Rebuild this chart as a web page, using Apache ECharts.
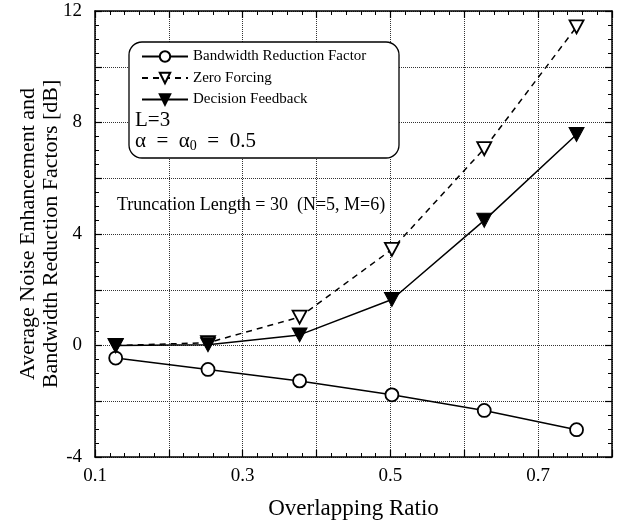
<!DOCTYPE html>
<html>
<head>
<meta charset="utf-8">
<script src="https://cdn.jsdelivr.net/npm/echarts@6/dist/echarts.min.js"></script>
<style>
  html, body { margin: 0; padding: 0; background: #fff; }
  #main { width: 620px; height: 522px; }
</style>
</head>
<body>
<div id="main"></div>
<script>
// overlapping ratio (x) and the three curves in dB
const overlapRatio = [0.128, 0.253, 0.377, 0.502, 0.627, 0.752];
const bandwidthReduction = [-0.45, -0.86, -1.27, -1.77, -2.33, -3.02];
const zeroForcing = [0, 0.1, 1.02, 3.45, 7.06, 11.43];
const decisionFeedback = [0, 0.03, 0.38, 1.65, 4.49, 7.57];
const xTickLabels = ['0.1', '0.3', '0.5', '0.7'];
const yTickLabels = ['-4', '0', '4', '8', '12'];

const serif = 'Liberation Serif';
const pairs = (ys) => overlapRatio.map((x, i) => [x, ys[i]]);

const axisCommon = {
  type: 'value',
  axisLine: { onZero: false, lineStyle: { color: '#000', width: 1.5 } },
  axisTick: { inside: true, length: 7, lineStyle: { color: '#000', width: 1.2 } },
  minorTick: { show: true, length: 4, lineStyle: { color: '#000', width: 1 } },
};

const option = {
  animation: false,
  textStyle: { fontFamily: serif, color: '#000' },
  grid: { left: 95, right: 8, top: 11, bottom: 65, outerBoundsMode: 'none' },
  legend: {
    orient: 'vertical',
    left: 141,
    top: 49,
    z: 10,
    padding: 0,
    itemGap: 6.5,
    itemWidth: 46,
    itemHeight: 13,
    textStyle: { fontFamily: serif, fontSize: 15, color: '#000' },
    data: ['Bandwidth Reduction Factor', 'Zero Forcing', 'Decision Feedback'],
  },
  xAxis: [
    {
      ...axisCommon,
      position: 'bottom',
      min: 0.1,
      max: 0.8,
      interval: 0.1,
      minorTick: { ...axisCommon.minorTick, splitNumber: 5 },
      splitLine: { show: true, lineStyle: { color: '#333', type: 'dotted', width: 1 } },
      axisLabel: {
        fontFamily: serif, fontSize: 19, color: '#000', margin: 10,
        formatter: (v) => {
          const s = v.toFixed(1);
          return xTickLabels.includes(s) ? s : '';
        },
      },
      name: 'Overlapping Ratio',
      nameLocation: 'center',
      nameGap: 40,
      nameMoveOverlap: false,
      nameTextStyle: { fontFamily: serif, fontSize: 23, color: '#000' },
    },
    {
      ...axisCommon,
      position: 'top',
      min: 0.1,
      max: 0.8,
      interval: 0.1,
      minorTick: { ...axisCommon.minorTick, splitNumber: 5 },
      splitLine: { show: false },
      axisLabel: { show: false },
    },
  ],
  yAxis: [
    {
      ...axisCommon,
      position: 'left',
      min: -4,
      max: 12,
      interval: 2,
      minorTick: { ...axisCommon.minorTick, splitNumber: 4 },
      splitLine: { show: true, lineStyle: { color: '#333', type: 'dotted', width: 1 } },
      axisLabel: {
        fontFamily: serif, fontSize: 19, color: '#000', margin: 13,
        formatter: (v) => {
          const s = String(Math.round(v));
          return yTickLabels.includes(s) ? s : '';
        },
      },
      name: 'Average Noise Enhancement and\nBandwidth Reduction Factors [dB]',
      nameLocation: 'center',
      nameRotate: 90,
      nameGap: 32,
      nameMoveOverlap: false,
      nameTextStyle: { fontFamily: serif, fontSize: 22, color: '#000', lineHeight: 23 },
    },
    {
      ...axisCommon,
      position: 'right',
      min: -4,
      max: 12,
      interval: 2,
      minorTick: { ...axisCommon.minorTick, splitNumber: 4 },
      splitLine: { show: false },
      axisLabel: { show: false },
    },
  ],
  graphic: [
    {
      type: 'rect',
      shape: { x: 129, y: 42, width: 270, height: 116, r: 13 },
      style: { fill: '#fff', stroke: '#000', lineWidth: 1.3 },
      z: 1,
    },
    {
      type: 'text',
      x: 135, y: 120,
      style: { text: 'L=3', font: '21px "Liberation Serif"', fill: '#000', verticalAlign: 'middle' },
      z: 6,
    },
    {
      type: 'text',
      x: 135, y: 141,
      style: {
        text: 'α  =  α{sub|0}  =  0.5',
        font: '21px "Liberation Serif"',
        fill: '#000',
        verticalAlign: 'middle',
        rich: { sub: { fontSize: 14, fontFamily: serif, verticalAlign: 'bottom', padding: [10, 0, 0, 0] } },
      },
      z: 6,
    },
    {
      type: 'text',
      x: 117, y: 205,
      style: { text: 'Truncation Length = 30  (N=5, M=6)', font: '18px "Liberation Serif"', fill: '#000', verticalAlign: 'middle' },
      z: 6,
    },
  ],
  series: [
    {
      name: 'Bandwidth Reduction Factor',
      type: 'line',
      data: pairs(bandwidthReduction),
      symbol: 'circle',
      symbolSize: 13,
      lineStyle: { color: '#000', width: 1.5 },
      itemStyle: { color: '#fff', borderColor: '#000', borderWidth: 1.8 },
      z: 3,
    },
    {
      name: 'Zero Forcing',
      type: 'line',
      data: pairs(zeroForcing),
      symbol: 'triangle',
      symbolRotate: 180,
      symbolSize: [14, 13],
      lineStyle: { color: '#000', width: 1.5, type: [6, 5] },
      itemStyle: { color: '#fff', borderColor: '#000', borderWidth: 1.8 },
      z: 3,
    },
    {
      name: 'Decision Feedback',
      type: 'line',
      data: pairs(decisionFeedback),
      symbol: 'triangle',
      symbolRotate: 180,
      symbolSize: [15, 14],
      lineStyle: { color: '#000', width: 1.5 },
      itemStyle: { color: '#000', borderColor: '#000', borderWidth: 1 },
      z: 4,
    },
  ],
};

const myChart = echarts.init(document.getElementById('main'), null, { renderer: 'canvas' });
myChart.setOption(option);
</script>
</body>
</html>
